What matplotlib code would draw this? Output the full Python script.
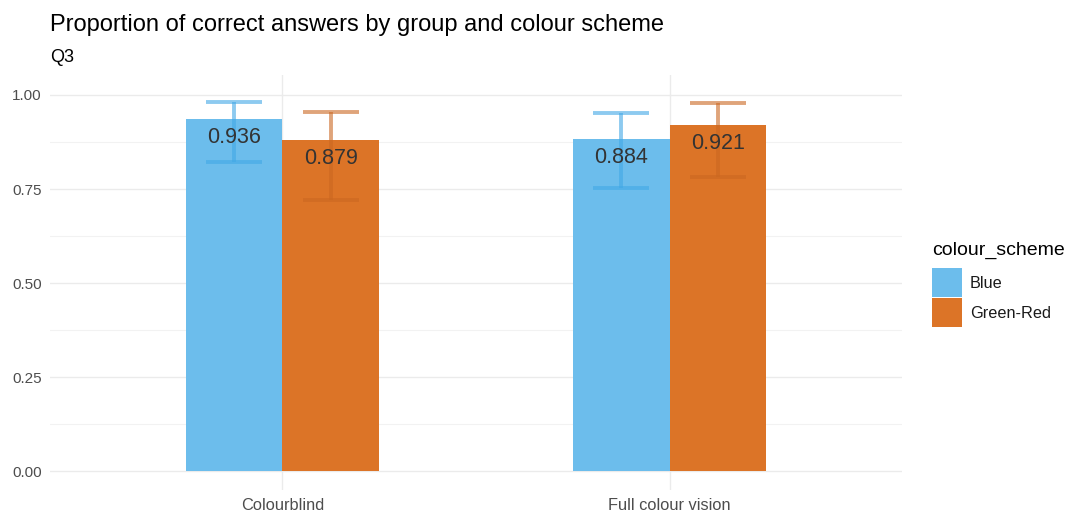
import matplotlib
matplotlib.use("Agg")
import matplotlib.pyplot as plt
from matplotlib.patches import Rectangle
import numpy as np

plt.rcParams['font.family'] = ['Liberation Sans', 'DejaVu Sans']

# Data
groups = ["Colourblind", "Full colour vision"]
schemes = ["Blue", "Green-Red"]
proportions = {
    "Blue": [0.936, 0.884],
    "Green-Red": [0.879, 0.921],
}
ci_lower = {
    "Blue": [0.822, 0.753],
    "Green-Red": [0.721, 0.782],
}
ci_upper = {
    "Blue": [0.981, 0.952],
    "Green-Red": [0.955, 0.979],
}

fill_colours = {"Blue": "#6CBDEC", "Green-Red": "#DC7427"}
err_colours = {"Blue": "#41A8E6", "Green-Red": "#CB6721"}

W, H = 1070, 516
fig = plt.figure(figsize=(W / 100, H / 100), dpi=100)
ax = fig.add_axes([50 / W, 1 - 490 / H, (902 - 50) / W, (490 - 75) / H])

x = np.arange(1, len(groups) + 1)
bar_w = 0.25
offsets = {"Blue": -bar_w / 2, "Green-Red": bar_w / 2}

for s in schemes:
    xs = x + offsets[s]
    vals = np.array(proportions[s])
    ax.bar(xs, vals, width=bar_w, color=fill_colours[s], zorder=2, linewidth=0)
    lo = vals - np.array(ci_lower[s])
    hi = np.array(ci_upper[s]) - vals
    ax.errorbar(xs, vals, yerr=[lo, hi], fmt="none", ecolor=err_colours[s],
                alpha=0.6, elinewidth=2.8, capsize=20.5, capthick=2.8, zorder=3)
    for xi, v in zip(xs, vals):
        ax.annotate(f"{v:.3f}", (xi, v), xytext=(0, -13.3), textcoords="offset points",
                    ha="center", va="center", fontsize=15.5, color="#333333", zorder=4)

ax.set_xlim(0.4, 2.6)
ax.set_ylim(-0.05, 1.053)
ax.set_xticks(x)
ax.set_xticklabels(groups)
ax.set_yticks([0, 0.25, 0.5, 0.75, 1.0])
ax.set_yticklabels(["0.00", "0.25", "0.50", "0.75", "1.00"])
ax.set_yticks([0.125, 0.375, 0.625, 0.875], minor=True)

ax.grid(True, which="major", color="#EBEBEB", linewidth=1.0, zorder=0)
ax.grid(True, which="minor", axis="y", color="#F2F2F2", linewidth=0.8, zorder=0)
ax.set_axisbelow(True)
for sp in ax.spines.values():
    sp.set_visible(False)
ax.tick_params(axis="both", which="both", length=0, labelcolor="#4D4D4D")
ax.tick_params(axis="x", pad=6, labelsize=11.8)
ax.tick_params(axis="y", pad=6, labelsize=11)

fig.text(50 / W, 1 - 25 / H, "Proportion of correct answers by group and colour scheme",
         fontsize=17, va="center", ha="left", color="#000000")
fig.text(50 / W, 1 - 57 / H, "Q3", fontsize=13, va="center", ha="left", color="#000000")

# Legend drawn as keys plus labels in figure pixels
fig.text(932 / W, 1 - 250 / H, "colour_scheme", fontsize=14, va="center", ha="left",
         color="#000000")
key_top = 268
for i, s in enumerate(schemes):
    top = key_top + i * 30
    fig.patches.append(Rectangle((932 / W, 1 - (top + 29) / H), 30 / W, 29 / H,
                                 transform=fig.transFigure, facecolor=fill_colours[s],
                                 edgecolor="none"))
    fig.text(970 / W, 1 - (top + 15) / H, s, fontsize=11.7, va="center", ha="left",
             color="#1A1A1A")

fig.savefig("out.png", dpi=100)
